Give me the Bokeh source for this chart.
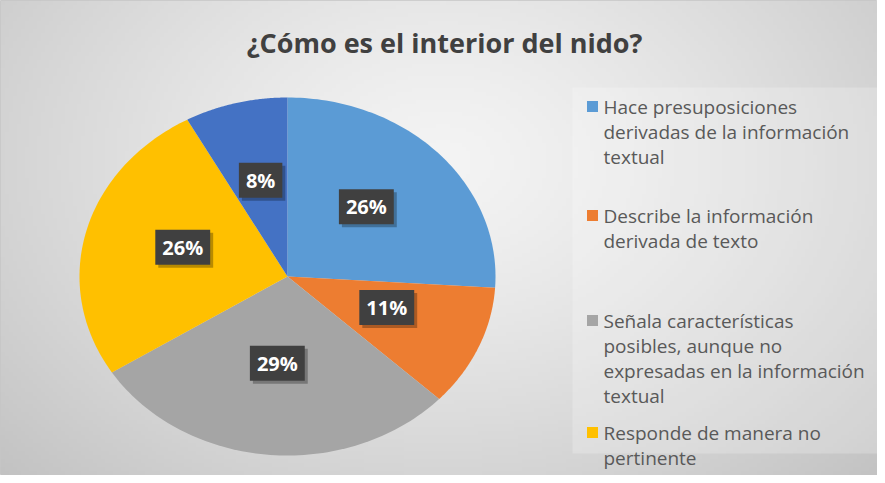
import numpy as np
from bokeh.plotting import figure
from bokeh.models import Range1d, ColumnDataSource
from bokeh.core.properties import value
from bokeh.embed import file_html
from bokeh.resources import INLINE

# ---------------- data ----------------
title_text = "¿Cómo es el interior del nido?"
categories = [
    "Hace presuposiciones derivadas de la información textual",
    "Describe la información derivada de texto",
    "Señala características posibles, aunque no expresadas en la información textual",
    "Responde de manera no pertinente",
    "(entrada de leyenda no visible)",
]
percentages = [26, 11, 29, 26, 8]
legend_lines = [
    ["Hace presuposiciones", "derivadas de la información", "textual"],
    ["Describe la información", "derivada de texto"],
    ["Señala características", "posibles, aunque no", "expresadas en la información", "textual"],
    ["Responde de manera no", "pertinente"],
]
colors = ["#5B9BD5", "#ED7D31", "#A5A5A5", "#FFC000", "#4472C4"]

# ---------------- layout (screen px, y measured from window top) ----------------
W, H = 877, 475
X0, YTOP = 8, 483


def Y(sy):
    return YTOP - sy


cx, cy = 295, Y(284)
rx, ry = 208, 179
label_r = 0.52
legend_first_y = [114, 223, 328, 440]
legend_step = 25
legend_sq_x = 600
legend_text_x = 611

p = figure(width=W, height=H, output_backend="svg", toolbar_location=None,
           x_range=Range1d(X0, X0 + W), y_range=Range1d(0, H),
           x_axis_type=None, y_axis_type=None, min_border=0)
p.grid.visible = False
p.outline_line_color = "#c6c6c6"
p.background_fill_color = "#e0e0e0"
p.border_fill_color = "#ffffff"

# ---------------- background gradient ----------------
nx, ny = 220, 120
gx = X0 + (np.arange(nx) + 0.5) / nx * W
gy = (np.arange(ny) + 0.5) / ny * H
GX, GY = np.meshgrid(gx, gy)
d = np.sqrt(((GX - 450) / 520) ** 2 + (((YTOP - GY) - 170) / 380) ** 2)
c = 244 - 40 * np.clip(d, 0, 1.25) ** 1.3
img = np.empty((ny, nx), dtype=np.uint32)
view = img.view(dtype=np.uint8).reshape((ny, nx, 4))
view[:, :, 0] = c.astype(np.uint8)
view[:, :, 1] = c.astype(np.uint8)
view[:, :, 2] = c.astype(np.uint8)
view[:, :, 3] = 255
p.image_rgba(image=[img], x=X0, y=0, dw=W, dh=H)

# lighter legend panel
p.quad(left=[580], right=[X0 + W], top=[Y(95)], bottom=[Y(461)],
       fill_color="#ffffff", fill_alpha=0.22, line_color=None)

# ---------------- pie slices (elliptical) ----------------
vals = np.array(percentages, dtype=float)
fr = vals / vals.sum()
ends = np.cumsum(fr) * 2 * np.pi
starts = ends - fr * 2 * np.pi
xs, ys, lx, ly = [], [], [], []
for a0, a1 in zip(starts, ends):
    t = np.linspace(a0, a1, 80)
    xs.append(np.concatenate([[cx], cx + rx * np.sin(t)]).tolist())
    ys.append(np.concatenate([[cy], cy + ry * np.cos(t)]).tolist())
    m = (a0 + a1) / 2
    lx.append(cx + label_r * rx * np.sin(m))
    ly.append(cy + label_r * ry * np.cos(m))

p.patches(xs=xs, ys=ys, fill_color=colors, line_color=None)

labels = ["%d%%" % v for v in percentages]
lsrc = ColumnDataSource(dict(x=lx, y=ly, t=labels))
# shadow
p.text(x="x", y="y", text="t", source=lsrc, x_offset=3, y_offset=-3,
       text_align="center", text_baseline="middle", text_alpha=0,
       text_font=value("Open Sans"), text_font_size="20px", text_font_style="bold",
       background_fill_color="#000000", background_fill_alpha=0.28, padding=[7, 4])
p.text(x="x", y="y", text="t", source=lsrc, y_offset=-6,
       text_align="center", text_baseline="middle", text_color="#ffffff",
       text_font=value("Open Sans"), text_font_size="20px", text_font_style="bold",
       background_fill_color="#404040", padding=[7, 4])

# ---------------- title ----------------
p.text(x=[452], y=[Y(50)], text=[title_text], text_align="center", text_baseline="middle",
       text_font=value("Open Sans"), text_font_size="27px", text_font_style="bold",
       text_color="#404040")

# ---------------- legend ----------------
sq_x, sq_y, sq_c, tx, ty, tt = [], [], [], [], [], []
for i, lines in enumerate(legend_lines):
    sq_x.append(legend_sq_x)
    sq_y.append(Y(legend_first_y[i]))
    sq_c.append(colors[i])
    for k, line in enumerate(lines):
        tx.append(legend_text_x)
        ty.append(Y(legend_first_y[i] + k * legend_step))
        tt.append(line)

p.scatter(x=sq_x, y=sq_y, marker="square", size=11, fill_color=sq_c, line_color=None)
p.text(x=tx, y=ty, text=tt, text_align="left", text_baseline="middle",
       text_font=value("Open Sans"), text_font_size="19px", text_color="#595959")

open("out.html", "w").write(file_html(p, INLINE))
